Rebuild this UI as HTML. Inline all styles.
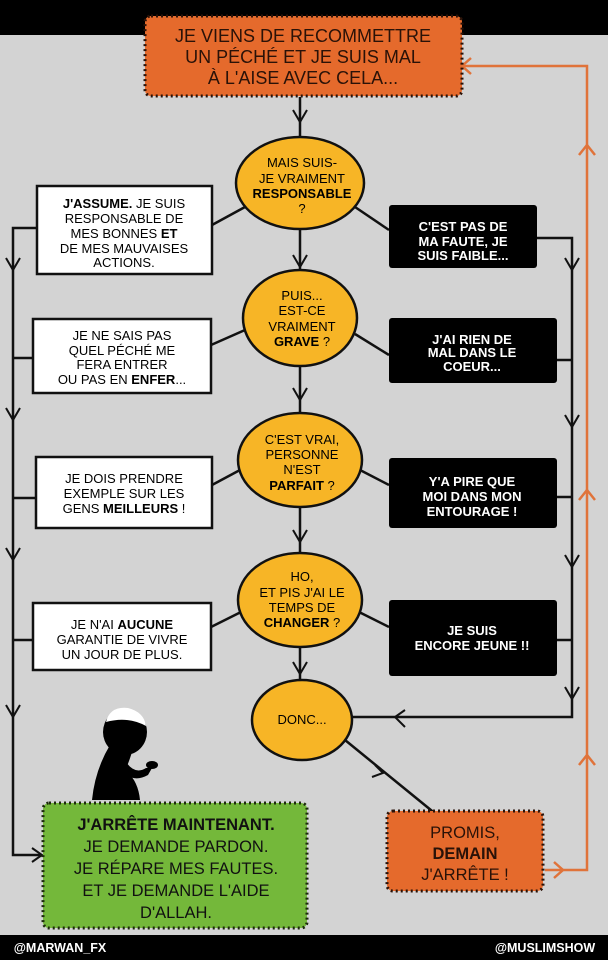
<!DOCTYPE html>
<html><head><meta charset="utf-8"><style>
html,body{margin:0;padding:0;width:608px;height:960px;overflow:hidden;background:#d3d3d3}
svg{display:block}
text{font-family:"Liberation Sans",sans-serif;text-anchor:middle;font-size:13px}
.b{font-weight:bold}
.big{font-size:18px}
.mid{font-size:16.5px}
.ft{font-size:12.5px;font-weight:bold}
</style></head><body>
<svg width="608" height="960" viewBox="0 0 608 960" xmlns="http://www.w3.org/2000/svg">
<rect x="0" y="0" width="608" height="35" fill="#000"/>
<rect x="0" y="35" width="608" height="900" fill="#d3d3d3"/>
<rect x="0" y="935" width="608" height="25" fill="#000"/>
<text x="60" y="952" fill="#fff" class="ft">@MARWAN_FX</text>
<text x="545" y="952" fill="#fff" class="ft">@MUSLIMSHOW</text>

<!-- orange loop -->
<g stroke="#e0733a" stroke-width="2.5" fill="none">
<path d="M545,870 L587,870 L587,66 L462,66"/>
<path d="M471,58 L462,66 L471,74"/>
<path d="M579,155 L587,145 L595,155"/>
<path d="M579,500 L587,490 L595,500"/>
<path d="M579,765 L587,755 L595,765"/>
<path d="M554,862 L563,870 L554,878"/>
</g>

<g stroke="#111" stroke-width="2.5" fill="none">
<line x1="300" y1="97" x2="300" y2="680"/>
<path d="M37,228 L13,228 L13,855 L40,855"/>
<line x1="13" y1="358" x2="33" y2="358"/>
<line x1="13" y1="498" x2="36" y2="498"/>
<line x1="13" y1="640" x2="33" y2="640"/>
<path d="M537,238 L572,238 L572,717 L352,717"/>
<line x1="557" y1="360" x2="572" y2="360"/>
<line x1="557" y1="497" x2="572" y2="497"/>
<line x1="557" y1="640" x2="572" y2="640"/>
<line x1="212" y1="225" x2="245" y2="207"/>
<line x1="355" y1="207" x2="389" y2="230"/>
<line x1="211" y1="345" x2="245" y2="330"/>
<line x1="355" y1="334" x2="389" y2="355"/>
<line x1="212" y1="485" x2="240" y2="470"/>
<line x1="360" y1="470" x2="389" y2="485"/>
<line x1="211" y1="627" x2="241" y2="612"/>
<line x1="359" y1="612" x2="389" y2="627"/>
<line x1="345" y1="740" x2="437" y2="815"/>
</g>
<g stroke="#111" stroke-width="2" fill="none">
<path d="M293,110 L300,122 L307,110"/>
<path d="M293,255 L300,267 L307,255"/>
<path d="M293,388 L300,400 L307,388"/>
<path d="M293,530 L300,542 L307,530"/>
<path d="M293,662 L300,674 L307,662"/>
<path d="M6,258 L13,270 L20,258"/>
<path d="M6,408 L13,420 L20,408"/>
<path d="M6,548 L13,560 L20,548"/>
<path d="M6,705 L13,717 L20,705"/>
<path d="M565,258 L572,270 L579,258"/>
<path d="M565,415 L572,427 L579,415"/>
<path d="M565,555 L572,567 L579,555"/>
<path d="M565,687 L572,699 L579,687"/>
<path d="M405,710 L395,717 L405,727"/>
<path d="M32,848 L42,855 L32,862"/>
<path d="M375,765 L383,773 L372,777"/>
</g>

<rect x="145" y="16" width="317" height="80" rx="6" fill="#e56a2c" stroke="#2a1208" stroke-width="3" stroke-dasharray="2 3"/>
<text x="303" y="42" class="big" fill="#2a1208">JE VIENS DE RECOMMETTRE</text>
<text x="303" y="63" class="big" fill="#2a1208">UN PÉCHÉ ET JE SUIS MAL</text>
<text x="303" y="84" class="big" fill="#2a1208">À L'AISE AVEC CELA...</text>

<g fill="#f7b526" stroke="#111" stroke-width="2.5">
<ellipse cx="300" cy="183" rx="64" ry="46"/>
<ellipse cx="300" cy="318" rx="57" ry="48"/>
<ellipse cx="300" cy="460" rx="62" ry="47"/>
<ellipse cx="300" cy="600" rx="62" ry="47"/>
<ellipse cx="302" cy="720" rx="50" ry="40"/>
</g>
<text x="302" y="167">MAIS SUIS-</text>
<text x="302" y="183">JE VRAIMENT</text>
<text x="302" y="198" class="b">RESPONSABLE</text>
<text x="302" y="213">?</text>
<text x="302" y="300">PUIS...</text>
<text x="302" y="315">EST-CE</text>
<text x="302" y="331">VRAIMENT</text>
<text x="302" y="346"><tspan class="b">GRAVE</tspan> ?</text>
<text x="302" y="444">C'EST VRAI,</text>
<text x="302" y="459">PERSONNE</text>
<text x="302" y="474">N'EST</text>
<text x="302" y="490"><tspan class="b">PARFAIT</tspan> ?</text>
<text x="302" y="581">HO,</text>
<text x="302" y="597">ET PIS J'AI LE</text>
<text x="302" y="612">TEMPS DE</text>
<text x="302" y="627"><tspan class="b">CHANGER</tspan> ?</text>
<text x="302" y="724">DONC...</text>

<g fill="#fff" stroke="#111" stroke-width="2.5">
<rect x="37" y="186" width="175" height="88"/>
<rect x="33" y="319" width="178" height="74"/>
<rect x="36" y="457" width="176" height="71"/>
<rect x="33" y="603" width="178" height="67"/>
</g>
<text x="124" y="208"><tspan class="b">J'ASSUME.</tspan> JE SUIS</text>
<text x="124" y="223">RESPONSABLE DE</text>
<text x="124" y="238">MES BONNES <tspan class="b">ET</tspan></text>
<text x="124" y="253">DE MES MAUVAISES</text>
<text x="124" y="267">ACTIONS.</text>
<text x="122" y="340">JE NE SAIS PAS</text>
<text x="122" y="355">QUEL PÉCHÉ ME</text>
<text x="122" y="369">FERA ENTRER</text>
<text x="122" y="384">OU PAS EN <tspan class="b">ENFER</tspan>...</text>
<text x="124" y="483">JE DOIS PRENDRE</text>
<text x="124" y="498">EXEMPLE SUR LES</text>
<text x="124" y="513">GENS <tspan class="b">MEILLEURS</tspan> !</text>
<text x="122" y="629">JE N'AI <tspan class="b">AUCUNE</tspan></text>
<text x="122" y="644">GARANTIE DE VIVRE</text>
<text x="122" y="659">UN JOUR DE PLUS.</text>

<g fill="#000">
<rect x="389" y="205" width="148" height="63" rx="3"/>
<rect x="389" y="318" width="168" height="65" rx="3"/>
<rect x="389" y="458" width="168" height="70" rx="3"/>
<rect x="389" y="600" width="168" height="76" rx="3"/>
</g>
<g fill="#fff">
<text x="463" y="231" class="b">C'EST PAS DE</text>
<text x="463" y="246" class="b">MA FAUTE, JE</text>
<text x="463" y="260" class="b">SUIS FAIBLE...</text>
<text x="472" y="344" class="b">J'AI RIEN DE</text>
<text x="472" y="357" class="b">MAL DANS LE</text>
<text x="472" y="371" class="b">COEUR...</text>
<text x="472" y="486" class="b">Y'A PIRE QUE</text>
<text x="472" y="501" class="b">MOI DANS MON</text>
<text x="472" y="516" class="b">ENTOURAGE !</text>
<text x="472" y="635" class="b">JE SUIS</text>
<text x="472" y="650" class="b">ENCORE JEUNE !!</text>
</g>

<g fill="#000">
<ellipse cx="125" cy="732" rx="22" ry="23"/>
<path d="M110,745 Q95,770 92,800 L140,800 Q138,780 125,770 Q128,765 132,752 Z"/>
<path d="M118,765 Q130,785 148,775 L152,768 L146,768 Q135,775 126,762 Z"/>
<ellipse cx="152" cy="765" rx="6" ry="4"/>
</g>
<path d="M106,722 Q110,706 128,708 Q144,712 146,726 Q128,716 106,722 Z" fill="#fff"/>

<rect x="43" y="803" width="264" height="125" rx="6" fill="#74b83a" stroke="#1c2a0c" stroke-width="3" stroke-dasharray="2 3"/>
<g fill="#111">
<text x="176" y="830" class="mid b">J'ARRÊTE MAINTENANT.</text>
<text x="176" y="852" class="mid">JE DEMANDE PARDON.</text>
<text x="176" y="874" class="mid">JE RÉPARE MES FAUTES.</text>
<text x="176" y="896" class="mid">ET JE DEMANDE L'AIDE</text>
<text x="176" y="918" class="mid">D'ALLAH.</text>
</g>

<rect x="387" y="811" width="156" height="80" rx="6" fill="#e56a2c" stroke="#2a1208" stroke-width="3" stroke-dasharray="2 3"/>
<g fill="#2a1208">
<text x="465" y="838" class="mid">PROMIS,</text>
<text x="465" y="859" class="mid b">DEMAIN</text>
<text x="465" y="880" class="mid">J'ARRÊTE !</text>
</g>
</svg>
</body></html>
